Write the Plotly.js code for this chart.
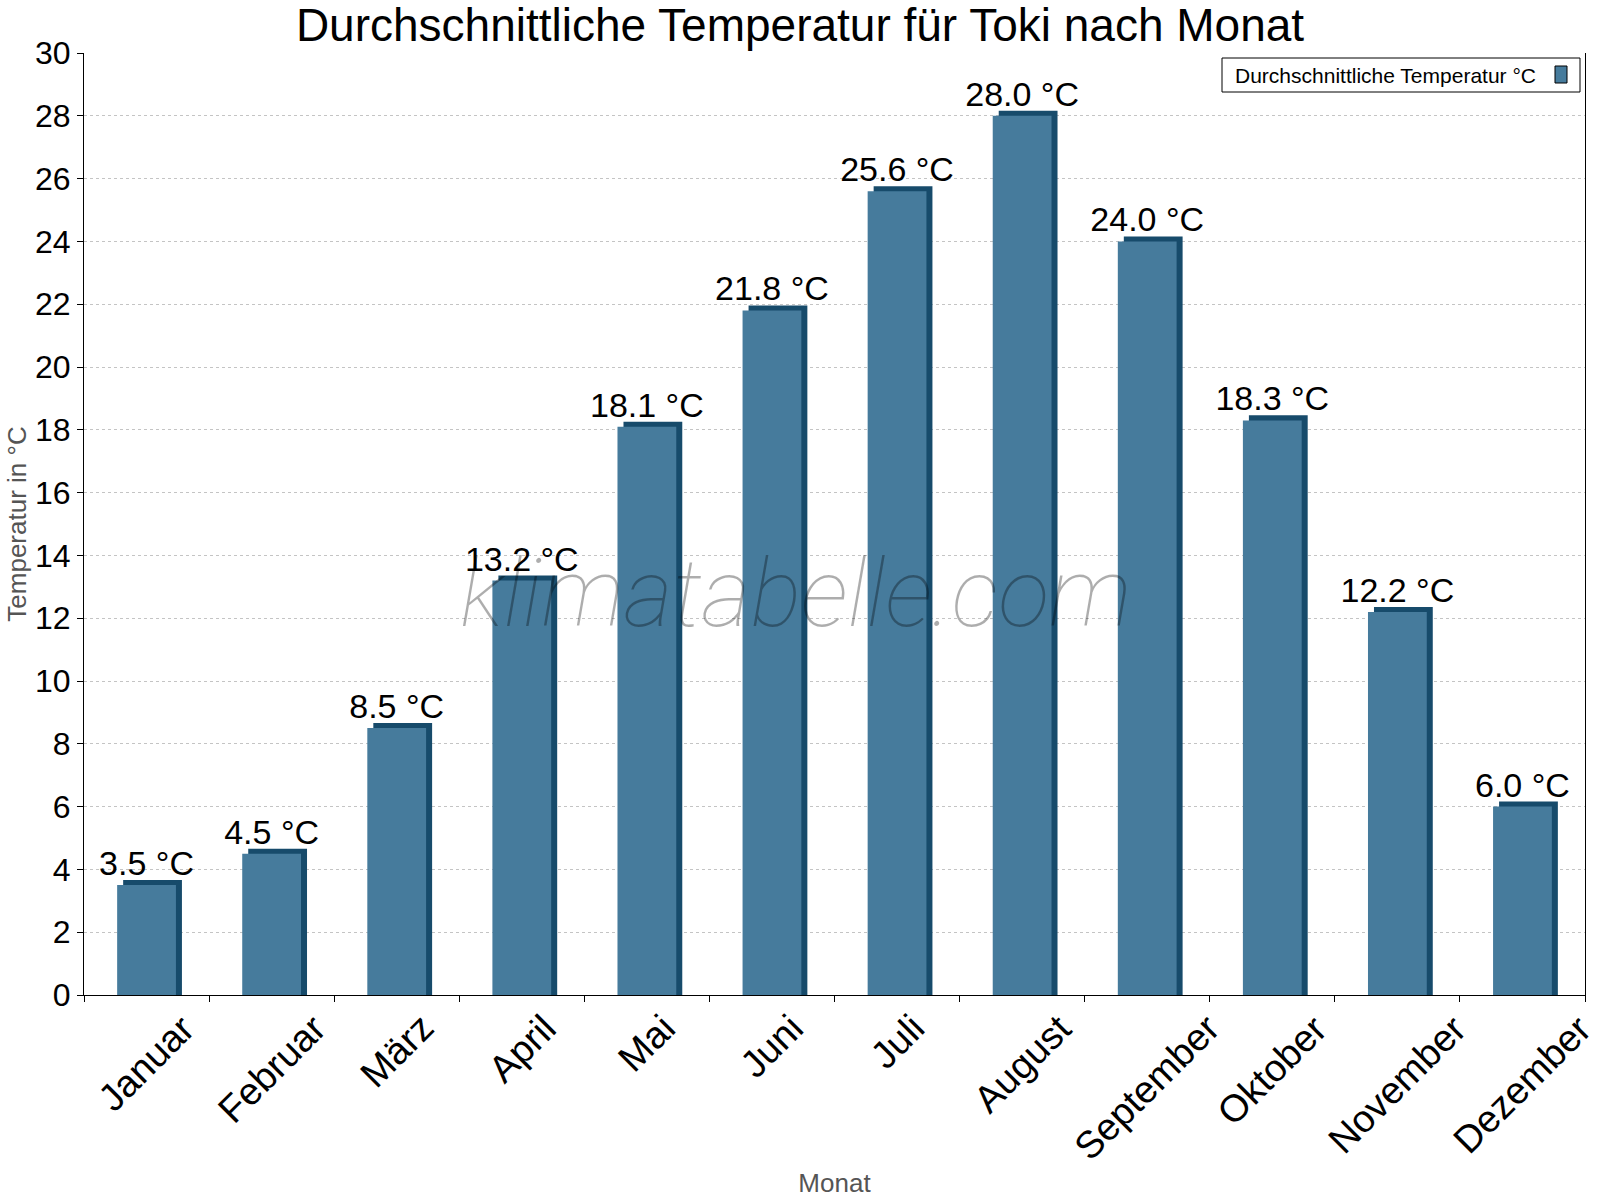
<!DOCTYPE html>
<html>
<head>
<meta charset="utf-8">
<script src="https://cdn.plot.ly/plotly-3.0.1.min.js"></script>
<style>html,body{margin:0;padding:0;background:#fff;}#chart{width:1600px;height:1200px;}</style>
</head>
<body>
<div id="chart"></div>
<script>
const months = ["Januar","Februar","März","April","Mai","Juni","Juli","August","September","Oktober","November","Dezember"];
const temps = [3.5, 4.5, 8.5, 13.2, 18.1, 21.8, 25.6, 28.0, 24.0, 18.3, 12.2, 6.0];
const labels = temps.map(v => v.toFixed(1) + " °C");
const seriesName = "Durchschnittliche Temperatur °C";

const FONT = "Liberation Sans, Arial, sans-serif";
const front = "#467b9c";
const side = "#174b6b";
const depth = 0.16;   // visual 3D depth in data units
const bw = 0.47;

// plot area in pixels
const PL = 84, PR = 1585, PT = 53, PB = 995;
const px = x => (x - PL) / (PR - PL);
const py = y => (PB - y) / (PB - PT);

const sideTrace = {
  type: "bar", x: months, y: temps.map(v => v + depth),
  width: bw, offset: -bw/2 + 0.048,
  marker: {color: side, line: {width: 0}},
  showlegend: false, hoverinfo: "skip"
};
const mainTrace = {
  type: "bar", x: months, y: temps, name: seriesName,
  width: bw, offset: -bw/2,
  marker: {color: front, line: {width: 0}},
  text: labels, textposition: "outside", cliponaxis: false, constraintext: "none",
  textfont: {family: FONT, size: 34, color: "#000"},
  showlegend: false
};

// month labels rotated about their centre, hanging just below the axis
const monthLabels = months.map(m => ({
  text: m, xref: "x", yref: "paper", x: m, y: py(1004),
  xanchor: "center", yanchor: "top", textangle: -45, showarrow: false,
  font: {family: FONT, size: 38, color: "#000"}
}));

const layout = {
  width: 1600, height: 1200,
  paper_bgcolor: "#fff", plot_bgcolor: "#fff",
  margin: {l: PL, r: 1600 - PR, t: PT, b: 1200 - PB},
  barmode: "overlay",
  font: {family: FONT, color: "#000"},
  title: {text: "Durchschnittliche Temperatur für Toki nach Monat",
          font: {family: FONT, size: 46, color: "#000"},
          x: 0.5, xanchor: "center", y: 0.979, yanchor: "middle"},
  xaxis: {
    type: "category", range: [-0.5, months.length - 0.5], autorange: false,
    tickson: "boundaries", ticks: "outside", ticklen: 6,
    tickcolor: "#000", showline: true, linecolor: "#000", linewidth: 1,
    showticklabels: false, showgrid: false,
    title: {text: "Monat", font: {family: FONT, size: 26, color: "#555"}, standoff: 178}
  },
  yaxis: {
    range: [0, 30], autorange: false, dtick: 2, ticks: "outside", ticklen: 6, tickcolor: "#000",
    showline: true, linecolor: "#000", linewidth: 1, mirror: true,
    tickfont: {family: FONT, size: 32, color: "#000"},
    showgrid: true, gridcolor: "#c4c4c4", griddash: "dot", gridwidth: 1,
    zeroline: false,
    title: {text: "Temperatur in °C", font: {family: FONT, size: 26, color: "#555"}, standoff: 0}
  },
  showlegend: false,
  annotations: [
    {text: "klimatabelle.com", xref: "paper", yref: "paper", x: px(796), y: py(593),
     xanchor: "center", yanchor: "middle", showarrow: false,
     font: {family: "Roboto, Liberation Sans, sans-serif", size: 95, weight: 100,
            color: "rgba(0,0,0,0.32)", style: "italic"}},
    {text: seriesName, xref: "paper", yref: "paper",
     x: px(1233), y: py(75), xanchor: "left", yanchor: "middle", showarrow: false,
     font: {family: FONT, size: 21, color: "#000"}}
  ].concat(monthLabels),
  shapes: [
    {type: "rect", xref: "paper", yref: "paper",
     x0: px(1222), x1: px(1580), y0: py(92), y1: py(58),
     fillcolor: "rgba(255,255,255,0)", line: {color: "#000", width: 1}},
    {type: "rect", xref: "paper", yref: "paper",
     x0: px(1555), x1: px(1567), y0: py(83), y1: py(66),
     fillcolor: front, line: {color: "#000", width: 1}}
  ]
};

Plotly.newPlot("chart", [sideTrace, mainTrace], layout, {displayModeBar: false, staticPlot: true});
</script>
</body>
</html>
